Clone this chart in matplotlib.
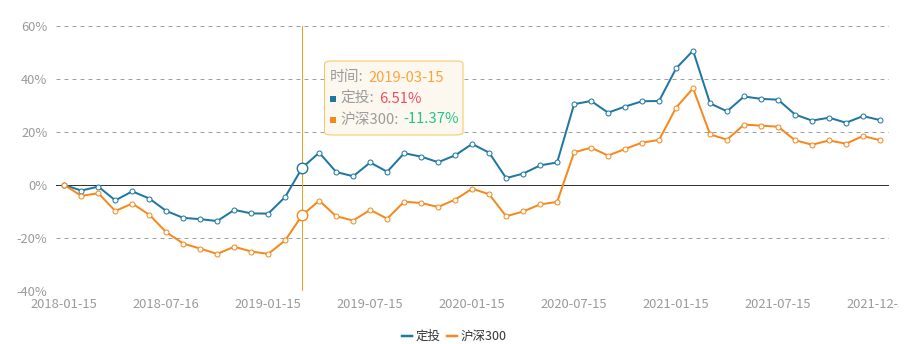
import matplotlib
matplotlib.use("Agg")
import matplotlib.pyplot as plt
from matplotlib.lines import Line2D
from matplotlib.patches import FancyBboxPatch
from matplotlib.transforms import Bbox

plt.rcParams['font.family'] = ['Noto Sans CJK SC', 'DejaVu Sans']

dates = ['2018-01-15', '2018-02-15', '2018-03-15', '2018-04-16', '2018-05-15', '2018-06-15',
         '2018-07-16', '2018-08-15', '2018-09-17', '2018-10-15', '2018-11-15', '2018-12-17',
         '2019-01-15', '2019-02-15', '2019-03-15', '2019-04-15', '2019-05-15', '2019-06-17',
         '2019-07-15', '2019-08-15', '2019-09-16', '2019-10-15', '2019-11-15', '2019-12-16',
         '2020-01-15', '2020-02-17', '2020-03-16', '2020-04-15', '2020-05-15', '2020-06-15',
         '2020-07-15', '2020-08-17', '2020-09-15', '2020-10-15', '2020-11-16', '2020-12-15',
         '2021-01-15', '2021-02-18', '2021-03-15', '2021-04-15', '2021-05-17', '2021-06-15',
         '2021-07-15', '2021-08-16', '2021-09-15', '2021-10-15', '2021-11-15', '2021-12-15',
         '2021-12-31']

# 定投 cumulative return (%)
plan = [0, -2.1, -0.6, -5.8, -2.4, -5.1, -9.8, -12.4, -12.9, -13.6, -9.4, -10.7, -10.8, -4.5,
        6.51, 12.2, 4.9, 3.3, 8.5, 5.0, 12.0, 10.7, 8.6, 11.2, 15.5, 12.2, 2.6, 4.3, 7.4, 8.5,
        30.5, 31.7, 27.3, 29.6, 31.6, 31.7, 44.0, 50.7, 30.8, 27.8, 33.4, 32.5, 32.2, 26.6,
        24.3, 25.4, 23.5, 26.0, 24.5]

# 沪深300 cumulative return (%)
hs300 = [0, -4.1, -3.1, -9.8, -7.0, -11.2, -17.8, -22.1, -24.0, -26.0, -23.3, -25.1, -26.0,
         -20.9, -11.37, -5.9, -11.8, -13.4, -9.4, -12.7, -6.3, -6.8, -8.3, -5.5, -1.4, -3.5,
         -11.8, -10.0, -7.3, -6.4, 12.3, 14.1, 11.1, 13.6, 16.0, 17.0, 29.2, 36.5, 19.1, 17.1,
         22.8, 22.4, 22.0, 16.9, 15.2, 16.8, 15.6, 18.5, 16.9]

series_names = ['定投', '沪深300']
y_ticks = [-40, -20, 0, 20, 40, 60]
label_step = 6
hover_index = 14

BLUE = '#1f77a2'
ORANGE = '#f5891d'
W, H = 915, 344
px = 72 / 100  # one pixel in points

fig = plt.figure(figsize=(W / 100, H / 100), dpi=100)
ax = fig.add_axes([55.8 / W, (H - 291) / H, (888.5 - 55.8) / W, (291 - 26) / H])

x = list(range(len(dates)))
for vals, col, name in [(plan, BLUE, series_names[0]), (hs300, ORANGE, series_names[1])]:
    ax.plot(x, vals, color=col, lw=2 * px, marker='o', ms=5 * px,
            mfc='white', mec=col, mew=1 * px, zorder=3, label=name)

# grid lines
for t in y_ticks:
    if t == 0:
        ax.axhline(t, color='#333333', lw=1 * px, zorder=2)
    else:
        ax.axhline(t, color='#a0a0a0', lw=1 * px, ls=(0, (4, 4)), zorder=1)

ax.set_xlim(-0.5, len(dates) - 0.5)
ax.set_ylim(y_ticks[0], y_ticks[-1])
ax.set_yticks(y_ticks)
ax.set_yticklabels([f'{t}%' for t in y_ticks])
tick_pos = x[::label_step]
ax.set_xticks(tick_pos)
ax.set_xticklabels([dates[i] for i in tick_pos])
ax.tick_params(axis='both', length=0, labelsize=9.3, labelcolor='#9a9a9a')
ax.tick_params(axis='y', pad=6)
ax.tick_params(axis='x', pad=5)
for s in ax.spines.values():
    s.set_visible(False)

# last label is cut off by the container edge
last = ax.get_xticklabels()[-1]
last.set_clip_box(Bbox([[0, 0], [899, H]]))
last.set_clip_on(True)

# hover pointer
ax.axvline(hover_index, ymin=0, ymax=1, color='#f7a01f', lw=1 * px, zorder=4)
ax.plot([hover_index], [plan[hover_index]], 'o', ms=10.5 * px, mfc='white', mec=BLUE,
        mew=1.4 * px, zorder=5)
ax.plot([hover_index], [hs300[hover_index]], 'o', ms=10.5 * px, mfc='white', mec=ORANGE,
        mew=1.4 * px, zorder=5)

# tooltip
def fx(p):
    return p / W


def fy(p):
    return (H - p) / H


box = FancyBboxPatch((fx(324.5), fy(135)), fx(463) - fx(324.5), fy(61) - fy(135),
                     boxstyle='round,pad=0,rounding_size=0.008', transform=fig.transFigure,
                     facecolor='#fcf8f0', edgecolor='#f6c75c', lw=1 * px, zorder=10)
fig.patches.append(box)

renderer = fig.canvas.get_renderer()
label_col = '#9b9b9b'
fs = 10.6


def pair(x0, yc, label, value, vcol):
    t = fig.text(fx(x0), fy(yc), label, fontsize=fs, color=label_col, va='center',
                 ha='left', zorder=11)
    bb = t.get_window_extent(renderer)
    fig.text(fx(bb.x1 + 5), fy(yc), value, fontsize=fs, color=vcol, va='center',
             ha='left', zorder=11)


pair(330, 77.5, '时间:', dates[hover_index], '#f8a53f')
for yc, col, name, val, vcol in [(99, BLUE, series_names[0], plan[hover_index], '#ef4d63'),
                                   (119.5, ORANGE, series_names[1], hs300[hover_index], '#21c48a')]:
    fig.patches.append(plt.Rectangle((fx(330), fy(yc + 3)), fx(5.5), fy(0) - fy(5.5),
                                     transform=fig.transFigure, facecolor=col, lw=0, zorder=11))
    pair(340, yc, f'{name}:', f'{val:.2f}%', vcol)

# legend
handles = [Line2D([], [], color=BLUE, lw=2.5 * px), Line2D([], [], color=ORANGE, lw=2.5 * px)]
fig.legend(handles, series_names, loc='center', bbox_to_anchor=(fx(454), fy(336.5)),
           ncol=2, frameon=False, fontsize=9, handlelength=0.8, handletextpad=0.3,
           columnspacing=0.5, labelcolor='#333333', borderpad=0)

fig.savefig('out.png', dpi=100)
